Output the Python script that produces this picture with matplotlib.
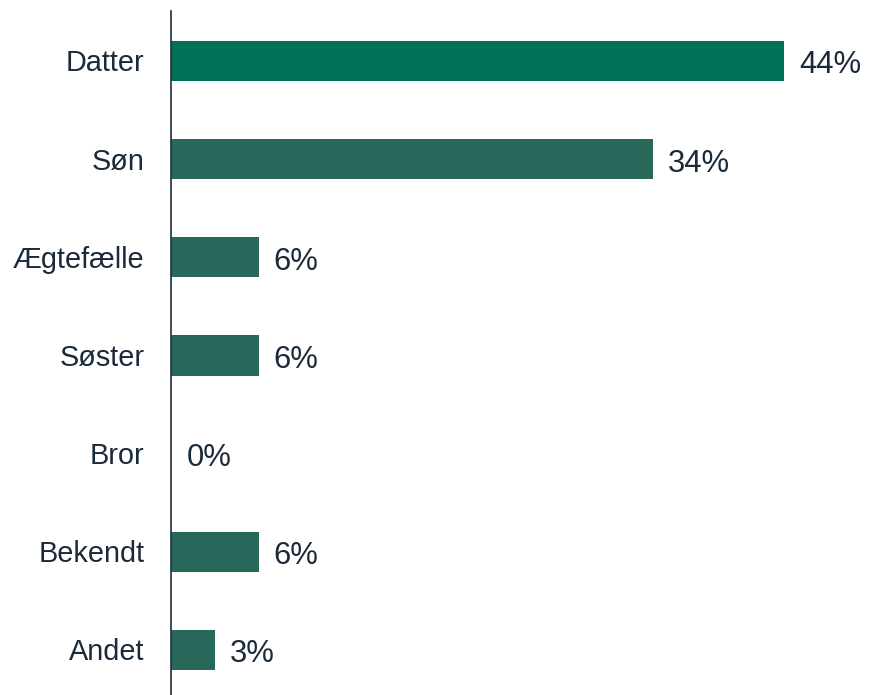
import matplotlib
matplotlib.use("Agg")
import matplotlib.pyplot as plt

categories = ["Datter", "Søn", "Ægtefælle", "Søster", "Bror", "Bekendt", "Andet"]
values = [43.75, 34.375, 6.25, 6.25, 0.0, 6.25, 3.125]
bar_colors = ["#00705A", "#27685A", "#27685A", "#27685A", "#27685A", "#27685A", "#27685A"]

text_color = "#1B2A3B"
plt.rcParams['font.family'] = ['Liberation Sans', 'DejaVu Sans']

fig = plt.figure(figsize=(8.7, 6.95), dpi=100)
ax = fig.add_axes([171/870, 0, 1 - 171/870, (695 - 11)/695])

ypos = list(range(len(categories)))
ax.barh(ypos, values, height=0.41, color=bar_colors)

for y, v in zip(ypos, values):
    ax.annotate(f"{round(v):d}%", xy=(v, y), xytext=(11.0, -8.9), textcoords="offset points",
                ha="left", va="baseline", fontsize=22.3, color=text_color)

ax.set_xlim(0, (870 - 171) / 14.01)
ax.set_ylim(6.458, -0.509)
ax.set_yticks(ypos)
ax.set_yticklabels(categories, fontsize=20.8, color=text_color)
for lbl in ax.get_yticklabels():
    lbl.set_verticalalignment("baseline")
ax.tick_params(axis="y", length=0, pad=19)
# shift tick labels so baseline sits below bar center
import matplotlib.transforms as mtransforms
offset = mtransforms.ScaledTranslation(0, -7.5/72, fig.dpi_scale_trans)
for lbl in ax.get_yticklabels():
    lbl.set_transform(lbl.get_transform() + offset)
ax.set_xticks([])
for s in ["top", "right", "bottom"]:
    ax.spines[s].set_visible(False)
ax.spines["left"].set_color("#1F2D3D")
ax.spines["left"].set_linewidth(1.2)

fig.savefig("out.png", dpi=100)
